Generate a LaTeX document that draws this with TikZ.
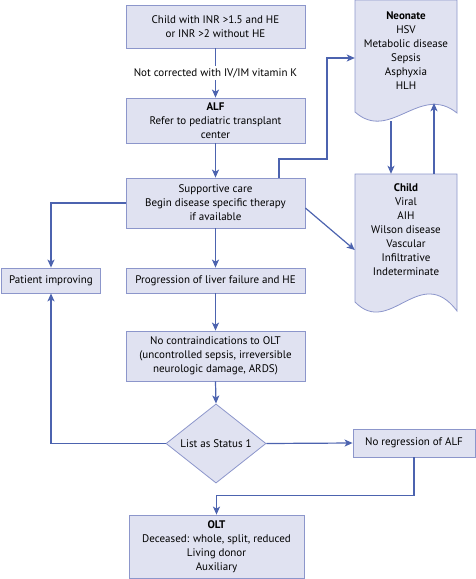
\documentclass[tikz,border=0pt]{standalone}
\usepackage{fontspec}
\setmainfont{PT Sans}
\usetikzlibrary{shapes.geometric,arrows.meta}
\definecolor{boxc}{HTML}{E0E2F1}
\definecolor{bordc}{HTML}{8C96CB}
\definecolor{linec}{HTML}{4C63AF}
\tikzset{
  box/.style={draw=bordc, fill=boxc, line width=0.8pt, align=center, inner sep=0pt,
    font=\fontsize{11}{14}\selectfont},
  txt/.style={align=center, inner sep=0pt, font=\fontsize{11}{14}\selectfont},
  ghost/.style={inner sep=0pt, draw=none},
  conn/.style={draw=linec, line width=1.2pt, -{Stealth[length=8pt,width=7pt,inset=2pt]}},
  docshape/.style={draw=bordc, fill=boxc, line width=0.8pt},
}
\begin{document}
\begin{tikzpicture}[x=1pt,y=-1pt]
\useasboundingbox (0,0) rectangle (476,579);
% document shapes
\path[docshape] (355,0) -- (355,112) .. controls (390,143) and (420,83) .. (457,113) -- (457,0) -- cycle;
\path[docshape] (355,174) -- (355,302) .. controls (390,338) and (420,262) .. (457,311) -- (457,174) -- cycle;
\node[ghost, minimum width=102pt, minimum height=116pt] (neo) at (406,58) {};
\node[ghost, minimum width=102pt, minimum height=128pt] (child) at (406,238) {};
\node[txt] (neotxt) at (406,51) {\textbf{Neonate}\\HSV\\Metabolic disease\\Sepsis\\Asphyxia\\HLH};
\node[txt] (childtxt) at (406,230) {\textbf{Child}\\Viral\\AIH\\Wilson disease\\Vascular\\Infiltrative\\Indeterminate};
% boxes
\node[box, minimum width=179pt, minimum height=43pt] (b1) at (215.5,26.5) {Child with INR >1.5 and HE\\or INR >2 without HE};
\node[box, minimum width=179pt, minimum height=45pt] (alf) at (215.5,120.5) {\textbf{ALF}\\Refer to pediatric transplant\\center};
\node[box, minimum width=179pt, minimum height=50pt] (sup) at (215.5,203) {Supportive care\\Begin disease specific therapy\\if available};
\node[box, minimum width=179pt, minimum height=25pt] (prog) at (215.5,280.5) {Progression of liver failure and HE};
\node[box, minimum width=99pt, minimum height=25pt] (pat) at (51,280.5) {Patient improving};
\node[box, minimum width=179pt, minimum height=50pt] (nocon) at (215.5,356) {No contraindications to OLT\\(uncontrolled sepsis, irreversible\\neurologic damage, ARDS)};
\node[box, diamond, minimum width=100pt, minimum height=75pt] (dia) at (216,443.5) {List as Status 1};
\node[box, minimum width=122pt, minimum height=28pt] (noreg) at (414,443) {No regression of ALF};
\node[box, minimum width=175pt, minimum height=63pt] (olt) at (216.5,546.5) {\textbf{OLT}\\Deceased: whole, split, reduced\\Living donor\\Auxiliary};
% connectors
\draw[conn] (b1.south) -- node[txt, fill=white, inner sep=2pt] (lab) {Not corrected with IV/IM vitamin K} (alf.north);
\draw[conn] (alf.south) -- (sup.north);
\draw[conn] ([xshift=63.5pt]sup.north) -- (279,159) -- (327,159) |- (neo.west);
\draw[conn] ([xshift=-15pt,yshift=-5pt]neo.south) -- ([xshift=-15pt]child.north);
\draw[conn] ([xshift=28pt]child.north) -- ([xshift=28pt,yshift=13pt]neo.south);
\draw[conn] ([yshift=-5pt]sup.east) -- ([yshift=-12pt]child.west);
\draw[conn] (sup.west) -| (pat.north);
\draw[conn] (sup.south) -- (prog.north);
\draw[conn] (prog.south) -- (nocon.north);
\draw[conn] (nocon.south) -- (dia.north);
\draw[conn] (dia.west) -| (pat.south);
\draw[conn] (dia.east) -- (noreg.west);
\draw[conn] (noreg.south) -- ++(0,38) -| (olt.north);
\end{tikzpicture}
\end{document}
